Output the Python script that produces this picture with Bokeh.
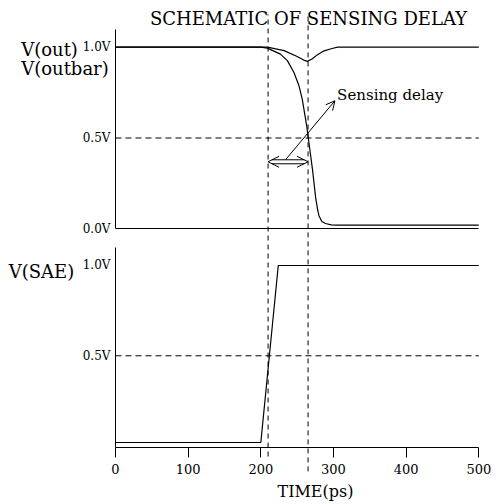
from bokeh.plotting import figure
from bokeh.models import (Range1d, LinearAxis, FixedTicker, Label, Arrow, OpenHead)
from bokeh.embed import file_html
from bokeh.resources import INLINE

# ---------------- data ----------------
t_out = [0, 200, 209, 232, 250, 259, 264, 271, 278, 287, 298, 306, 500]
v_out = [1.0, 1.0, 1.0, 0.981, 0.949, 0.929, 0.922, 0.936, 0.959, 0.98, 0.993, 1.0, 1.0]

t_outbar = [0, 200, 209, 227, 236.5, 245.6, 252.5, 257, 260.8, 263, 265, 268, 271,
            275.5, 278, 280, 284, 289, 297, 305, 500]
v_outbar = [1.0, 1.0, 0.995, 0.962, 0.926, 0.861, 0.788, 0.714, 0.623, 0.57, 0.51, 0.42, 0.33,
            0.17, 0.11, 0.072, 0.04, 0.029, 0.022, 0.02, 0.02]

t_sae = [0, 200, 224, 500]
v_sae = [0.02, 0.02, 1.0, 1.0]

marker_times = [210, 265]          # 50% crossings of V(SAE) and V(outbar)
x_ticks = [0, 100, 200, 300, 400, 500]
top_ticks = [0.0, 0.5, 1.0]
top_tick_labels = ["0.0V", "0.5V", "1.0V"]
bot_ticks = [0.5, 1.0]
bot_tick_labels = ["0.5V", "1.0V"]

FONT = "DejaVu Serif"

p = figure(width=495, height=504, output_backend="svg", toolbar_location=None,
           x_range=Range1d(-158.27, 522.98), y_range=Range1d(-0.3234, 2.4673),
           x_axis_location=None, y_axis_location=None,
           min_border_left=0, min_border_right=0, min_border_top=0, min_border_bottom=0)
p.extra_y_ranges = {"top": Range1d(-1.5182, 1.2572)}
p.outline_line_color = None
p.background_fill_color = "white"
p.border_fill_color = "white"
p.grid.visible = False


def style_axis(ax, font_size):
    ax.major_tick_in = 0
    ax.minor_tick_in = 0
    ax.minor_tick_out = 0
    ax.major_label_text_font = FONT
    ax.major_label_text_font_size = font_size
    ax.major_label_text_color = "black"
    ax.axis_line_color = "black"
    ax.axis_line_width = 1
    ax.major_tick_line_color = "black"


# top panel y axis
ya_top = LinearAxis(y_range_name="top", ticker=FixedTicker(ticks=top_ticks),
                    bounds=(0, 1.1), fixed_location=0)
ya_top.major_label_overrides = dict(zip(top_ticks, top_tick_labels))
style_axis(ya_top, "12px")
ya_top.major_tick_out = 0
ya_top.major_label_standoff = 5
p.add_layout(ya_top, "left")

# top panel base line (time axis without ticks)
xa_top = LinearAxis(y_range_name="top", ticker=FixedTicker(ticks=[]),
                    bounds=(0, 500), fixed_location=0)
style_axis(xa_top, "12px")
xa_top.major_tick_out = 0
xa_top.axis_line_width = 1.2
p.add_layout(xa_top, "below")

# bottom panel y axis
ya_bot = LinearAxis(ticker=FixedTicker(ticks=bot_ticks), bounds=(-0.006, 1.1),
                    fixed_location=0)
ya_bot.major_label_overrides = dict(zip(bot_ticks, bot_tick_labels))
style_axis(ya_bot, "12px")
ya_bot.major_tick_out = 0
ya_bot.major_label_standoff = 5
p.add_layout(ya_bot, "left")

# bottom time axis
xa = LinearAxis(ticker=FixedTicker(ticks=x_ticks), bounds=(0, 500), fixed_location=-0.006)
style_axis(xa, "13px")
xa.major_tick_out = 10
xa.major_label_standoff = 7
p.add_layout(xa, "below")

# reference lines
p.segment(x0=[0], x1=[500], y0=[0.5], y1=[0.5], y_range_name="top",
          line_color="black", line_width=1, line_dash="6 4")
p.segment(x0=[0], x1=[500], y0=[0.5], y1=[0.5],
          line_color="black", line_width=1, line_dash="6 4")
p.segment(x0=marker_times, x1=marker_times, y0=[-1.254, -1.336], y1=[1.18, 1.18],
          y_range_name="top", line_color="black", line_width=1, line_dash="5 4")

# curves
p.line(t_out, v_out, y_range_name="top", line_color="black", line_width=1.2)
p.line(t_outbar, v_outbar, y_range_name="top", line_color="black", line_width=1.2)
p.line(t_sae, v_sae, line_color="black", line_width=1.2)

# double-headed delay arrow
p.add_layout(Arrow(x_start=marker_times[0], y_start=0.369, x_end=marker_times[1], y_end=0.369,
                   y_range_name="top", line_alpha=0,
                   start=OpenHead(size=11, line_width=1, line_color="black"),
                   end=OpenHead(size=11, line_width=1, line_color="black")))
p.segment(x0=[marker_times[0] + 5] * 2, x1=[marker_times[1] - 5] * 2,
          y0=[0.38, 0.358], y1=[0.38, 0.358], y_range_name="top",
          line_color="black", line_width=1)
p.add_layout(Arrow(x_start=234, y_start=0.38, x_end=302, y_end=0.705, y_range_name="top",
                   line_color="black", line_width=1,
                   end=OpenHead(size=9, line_width=1, line_color="black")))

# texts
def add_label(x, y, text, size, align="left", rng="default"):
    p.add_layout(Label(x=x, y=y, text=text, y_range_name=rng, text_font=FONT,
                       text_font_size=size, text_color="black", text_align=align,
                       text_baseline="alphabetic"))


add_label(265.6, 1.158, "SCHEMATIC OF SENSING DELAY", "18px", "center", "top")
add_label(305, 0.735, "Sensing delay", "15px", "left", "top")
add_label(-129.8, 0.985, "V(out)", "18px", "left", "top")
add_label(-129.8, 0.885, "V(outbar)", "18px", "left", "top")
add_label(-146.9, 0.967, "V(SAE)", "18px", "left")
add_label(275.2, -0.2514, "TIME(ps)", "16px", "center")

open("out.html", "w").write(file_html(p, INLINE))
